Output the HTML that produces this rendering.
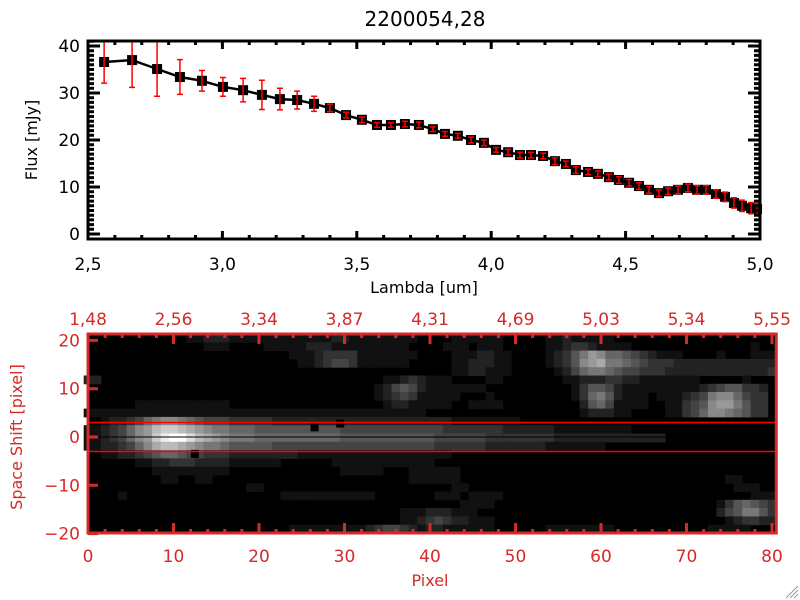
<!DOCTYPE html>
<html><head><meta charset="utf-8"><style>
html,body{margin:0;padding:0;background:#fff;}
svg{display:block;font-family:"DejaVu Sans","Liberation Sans",sans-serif;}
</style></head><body>
<svg id="c" width="800" height="600" viewBox="0 0 800 600" xmlns="http://www.w3.org/2000/svg"></svg>
<script>
const lambdas=[2.560,2.664,2.757,2.842,2.924,3.002,3.077,3.147,3.214,3.278,3.341,3.400,3.460,3.519,3.575,3.627,3.679,3.731,3.783,3.828,3.876,3.925,3.973,4.018,4.063,4.107,4.148,4.193,4.237,4.278,4.315,4.360,4.397,4.438,4.475,4.513,4.550,4.587,4.624,4.658,4.695,4.732,4.766,4.799,4.836,4.870,4.903,4.933,4.967,4.989];
const fluxes=[36.6,37.0,35.1,33.4,32.6,31.3,30.6,29.6,28.7,28.5,27.7,26.8,25.3,24.3,23.2,23.2,23.4,23.2,22.3,21.3,20.9,20.0,19.4,17.9,17.4,16.8,16.8,16.6,15.5,14.9,13.6,13.2,12.8,12.1,11.5,10.9,10.2,9.4,8.7,9.1,9.4,9.8,9.4,9.4,8.5,7.9,6.6,6.0,5.5,5.3];
const errors=[4.5,5.8,5.8,3.7,2.2,2.0,2.5,3.1,2.3,1.9,1.6,0.8,0.6,0.6,0.5,0.5,0.6,0.6,0.5,0.5,0.5,0.6,0.6,0.5,0.6,0.6,0.6,0.6,0.7,0.6,0.7,0.6,0.6,0.6,0.7,0.7,0.7,0.7,0.7,0.7,0.8,0.8,0.9,0.9,0.9,1.0,1.1,1.2,1.2,1.2];
const xTickLabels=["2,5","3,0","3,5","4,0","4,5","5,0"];
const yTickLabels=["0","10","20","30","40"];
const topPixTickLabels=["1,48","2,56","3,34","3,87","4,31","4,69","5,03","5,34","5,55"];
const pixTickLabels=["0","10","20","30","40","50","60","70","80"];
const shiftTickLabels=["20","10","0","\u221210","\u221220"];
const heatRows=[
"000000000000112221111111111112211111111000011111100000112111110000000000000000000",
"000000000000001110000111112221111111110000111011100000112332111100000000000000100",
"000000000000000000000000111233331111111000011122110000123579866543211100001000111",
"000000000000000000000000011234431111110000011222110000123589a77654333222222222222",
"000000000000000000000000000000000000000000011221110000012467765443332222222222223",
"220000000000000000000000000000000001123211100001100000001122233221111111000001000",
"000000000000000000000000000000000012454211111110000000000135542111111111234553320",
"000000000000000000000000000000000012343111110001000000000136752111011123478864330",
"000000111111111110000000000000000001221111100111100000000025641111001134589975330",
"111111111111111111111111111111111111111100000000000000000012221100001134688765330",
"001223467887654443333322222222222222222222211111111000000000000000000000000000000",
"11234689bccba98776665555555555444444444444333333322222211111111100000000000000000",
"11234689ceffdba987776666666666555555555554444443333333322222222222220000000000000",
"11223468abba9877655555444444444444444444433333322222221111111000000000000000000000",
"001122345665443332222222211111111111111111100000000000000000000000000000000000000",
"000000112233322221111110000001111111111110000000000000000000000000000000000000000",
"000000001111111110000000000000111110001111110000000000000000000000000000000000000",
"000000000110011000000000000000000000001111110000000000000000000000000000000110000",
"000000000000000000011000000000000000000000011000000000000000000000000000000011100",
"000010000000000000000001111111111100000001110111100000000000000000000000000000111",
"000000000000000000000000000000000000000000001111000000000000000000000000001356543",
"000000000000000000000000000000000000011122211100000000000000000000000000002457753",
"000000000000000000000000000000000000011234322111000000000000000000000000000123322",
"000000000000000000000000111111111234432122111111000000111111110000000000011111000"];
const NS="http://www.w3.org/2000/svg";
const svg=document.getElementById('c');
function el(t,a,p){const e=document.createElementNS(NS,t);for(const k in a)e.setAttribute(k,a[k]);(p||svg).appendChild(e);return e;}
function txt(s,a,p){const e=el('text',a,p);e.textContent=s;return e;}
const RED="#d42a2a";
const L=88,R=760,T=41,B=239;
const xs=v=>L+(v-2.5)/2.5*(R-L);
const ys=v=>234-v*4.7;
const topG=el('g',{});


txt("2200054,28",{x:425,y:26,'text-anchor':'middle','font-size':20,fill:'#000'},topG);
let d="";lambdas.forEach((l,i)=>{d+=(i?"L":"M")+xs(l).toFixed(1)+","+ys(fluxes[i]).toFixed(1);});
const ln=el('path',{d:d,fill:'none',stroke:'#000','stroke-width':2.5},topG);


lambdas.forEach((l,i)=>{
  const cx=xs(l),cy=ys(fluxes[i]);
  const s=el('rect',{x:cx-5,y:cy-5,width:10,height:10,fill:'#000'},topG);
  
  
});
lambdas.forEach((l,i)=>{
  const cx=xs(l);
  const y1=Math.max(T,ys(fluxes[i]+errors[i])),y2=ys(fluxes[i]-errors[i]);
  const g=el('path',{d:`M${cx},${y1}V${y2}M${cx-3},${y1}H${cx+3}M${cx-3},${y2}H${cx+3}`,stroke:'#f00','stroke-width':1.5,fill:'none'},topG);
  
  
});
const fr=el('rect',{x:L,y:T,width:R-L,height:B-T,fill:'none',stroke:'#000','stroke-width':3},topG);


let tk="";
for(let v=2.5;v<=5.001;v+=0.1){const x=xs(v);const maj=Math.abs(v*2-Math.round(v*2))<1e-6;const h=maj?8:4;tk+=`M${x},${B}v${-h}M${x},${T}v${h}`;}
for(let v=0;v<=41;v+=1){const y=ys(v);const h=v%10==0?12:6;tk+=`M${L},${y}h${h}M${R},${y}h${-h}`;}
el('path',{d:tk,stroke:'#000','stroke-width':3,fill:'none'},topG);
xTickLabels.forEach((s,i)=>{txt(s,{x:xs(2.5+i*0.5),y:270,'text-anchor':'middle','font-size':17},topG);});
yTickLabels.forEach((s,i)=>{txt(s,{x:80,y:ys(i*10)+6,'text-anchor':'end','font-size':17},topG);});
txt("Lambda [um]",{x:424,y:293,'text-anchor':'middle','font-size':16},topG);
txt("Flux [mJy]",{x:0,y:0,transform:'translate(37,140) rotate(-90)','text-anchor':'middle','font-size':16},topG);
const IL=88,IT=334,IB=533,CW=8.55;
const px=v=>IL+v*CW;
const sy=v=>437-v*4.83;
const nr=heatRows.length,RH=(IB-IT)/nr;
const img=el('g',{});


el('rect',{x:IL,y:IT,width:px(80.5)-IL,height:IB-IT,fill:'#000'},img);
heatRows.forEach((row,r)=>{
  for(let c=0;c<row.length;c++){
    const v=parseInt(row[c],16);if(!v)continue;
    const g=Math.round(v*17);
    const cell=el('rect',{x:px(c-0.5).toFixed(1),y:(IT+r*RH).toFixed(1),width:CW+0.5,height:RH+0.5,fill:`rgb(${g},${g},${g})`},img);
    
    
  }
});
[[26.5,2],[29.5,2.8],[12.5,-3.5]].forEach(p=>{el('rect',{x:px(p[0])-4,y:sy(p[1])-4,width:8,height:8,fill:'#000'},img);});
el('line',{x1:IL,x2:px(80.5),y1:sy(0),y2:sy(0),stroke:'#000','stroke-width':1},img);
el('line',{x1:IL,x2:px(80.5),y1:sy(3),y2:sy(3),stroke:'#f00','stroke-width':1.5},img);
el('line',{x1:IL,x2:px(80.5),y1:sy(-3),y2:sy(-3),stroke:'#f00','stroke-width':1.5},img);
const ifr=el('rect',{x:IL,y:IT,width:px(80.5)-IL,height:IB-IT,fill:'none',stroke:RED,'stroke-width':3},img);


let tk2="";
for(let v=0;v<=80;v+=2){const x=px(v);const h=v%10==0?10:4;tk2+=`M${x},${IB}v${-h}M${x},${IT}v${h}`;}
for(let v=-20;v<=20;v+=10){const y=sy(v);tk2+=`M${IL},${y}h10`;}
el('path',{d:tk2,stroke:RED,'stroke-width':3,fill:'none'},img);
topPixTickLabels.forEach((s,i)=>{txt(s,{x:px(i*10),y:325,'text-anchor':'middle','font-size':17,fill:RED},img);});
pixTickLabels.forEach((s,i)=>{txt(s,{x:px(i*10),y:562,'text-anchor':'middle','font-size':17,fill:RED},img);});
shiftTickLabels.forEach((s,i)=>{txt(s,{x:80,y:sy(20-i*10)+6,'text-anchor':'end','font-size':17,fill:RED},img);});
txt("Pixel",{x:430,y:586,'text-anchor':'middle','font-size':16,fill:RED},img);
txt("Space Shift [pixel]",{x:0,y:0,transform:'translate(22,437) rotate(-90)','text-anchor':'middle','font-size':16,fill:RED},img);
el('path',{d:'M786,598L798,586M790,598L798,590M794,598L798,594',stroke:'#999','stroke-width':1},svg);
</script>
</body></html>
